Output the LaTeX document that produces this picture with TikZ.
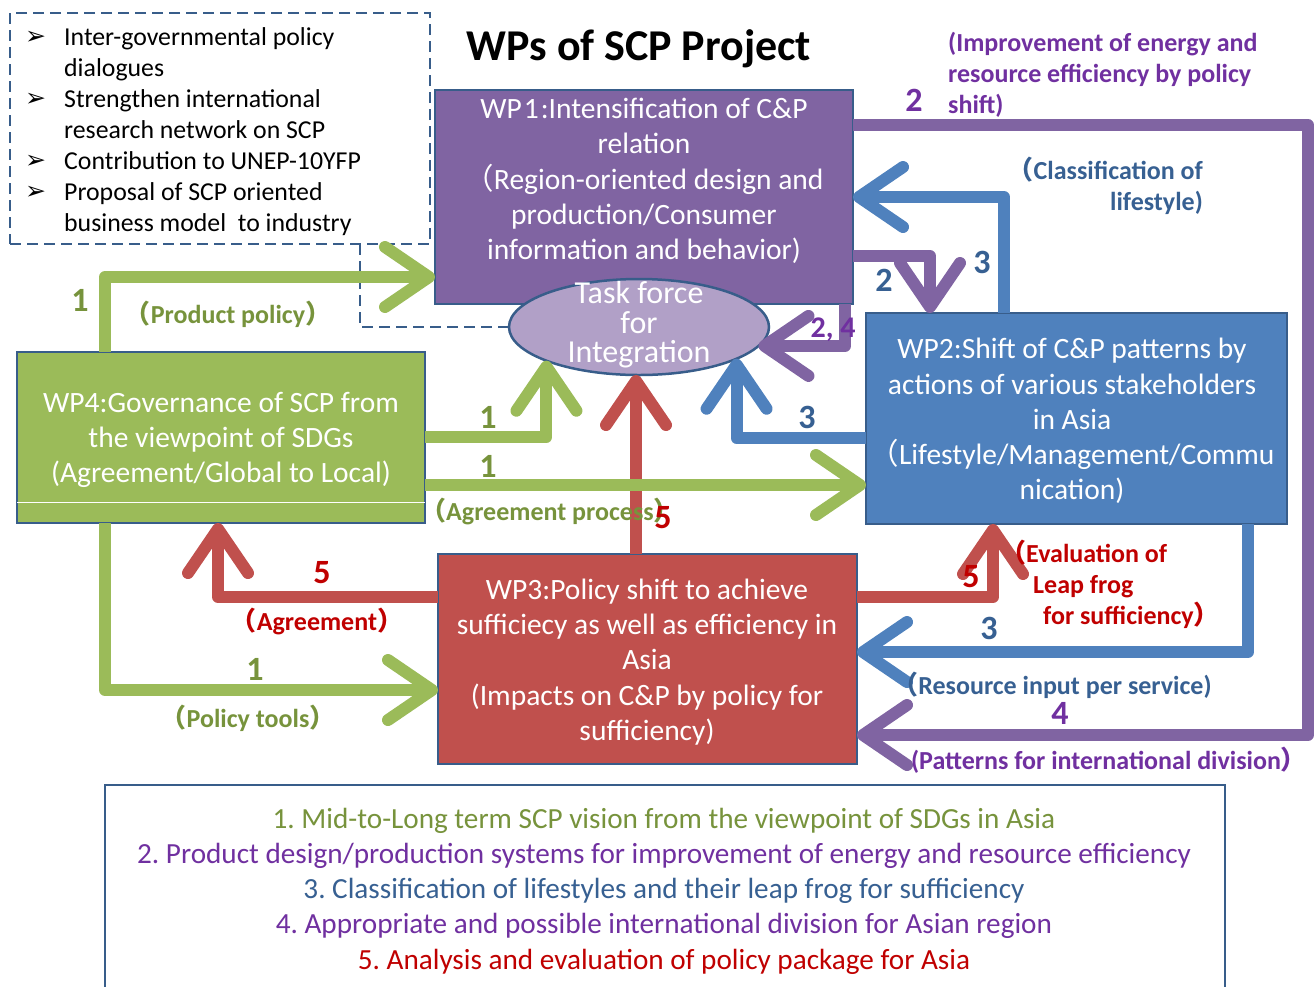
\documentclass[tikz,border=0pt]{standalone}
\usepackage{fontspec}
\setmainfont{Carlito}
\newfontfamily\cjk{Noto Sans CJK JP}
\newfontfamily\dejavu{DejaVu Sans}
\usetikzlibrary{arrows.meta,shapes.geometric}
\definecolor{gfill}{HTML}{9BBB59}
\definecolor{pfill}{HTML}{8064A2}
\definecolor{bfill}{HTML}{4F81BD}
\definecolor{rfill}{HTML}{C0504D}
\definecolor{edge}{HTML}{385D8A}
\definecolor{efill}{HTML}{B1A0C7}
\definecolor{gtxt}{HTML}{77933C}
\definecolor{ptxt}{HTML}{7030A0}
\definecolor{btxt}{HTML}{376092}
\definecolor{rtxt}{HTML}{C00000}
\newcommand{\jlp}{{\cjk （}}
\newcommand{\jrp}{{\cjk ）}}
\newcommand{\bul}{\makebox[39pt][l]{\raisebox{1pt}{\dejavu\bfseries\fontsize{25}{31}\selectfont ➢}}}
\frenchspacing
\begin{document}
\begin{tikzpicture}[x=1pt,y=-1pt,
  wpbox/.style={draw=edge, line width=2.5pt, anchor=north west, inner sep=0pt, outer sep=0pt},
  wptext/.style={align=center, text=white, inner sep=0pt, font=\fontsize{29.5}{35.2}\selectfont},
  arr/.style={line width=12pt, line join=round, -{Straight Barb[length=44pt,width=60pt,round]}},
  num/.style={inner sep=0pt, font=\fontsize{34}{34}\selectfont\bfseries},
  lab/.style={inner sep=0pt, font=\fontsize{26}{31}\selectfont\bfseries},
  dashline/.style={draw=edge, line width=2.8pt, dash pattern=on 11pt off 6pt}
]
\useasboundingbox (0,0) rectangle (1314,986);

% dashed box and list
\node[wpbox, dashline, minimum width=420pt, minimum height=231pt] (dash) at (10,13) {};
\node[anchor=north west, inner sep=0pt, font=\fontsize{25.8}{31}\selectfont] (list) at (25,24) {%
\begin{tabular}{@{}l@{}l@{}}
\bul & Inter-governmental policy\\
 & dialogues\\
\bul & Strengthen international\\
 & research network on SCP\\
\bul & Contribution to UNEP-10YFP\\
\bul & Proposal of SCP oriented\\
 & business model\ \ to industry
\end{tabular}};

% title
\node[inner sep=0pt, font=\fontsize{44}{44}\selectfont\bfseries] (title) at (639,49) {WPs of SCP Project};

% boxes
\node[wpbox, fill=pfill, minimum width=418pt, minimum height=214pt] (wp1) at (435,90) {};
\node[wptext] (wp1t) at (644,181) {WP\hspace{2pt}1\hspace{2pt}:Intensification of C\&P\\relation\\\jlp Region-oriented design and\\production/Consumer\\information and behavior)};
\node[wpbox, fill=bfill, minimum width=421pt, minimum height=211pt] (wp2) at (866,313) {};
\node[wptext] (wp2t) at (1072,421) {WP2:Shift of C\&P patterns by\\actions of various stakeholders\\in Asia\\\jlp Lifestyle/Management/Commu\\nication)};
\node[wpbox, fill=gfill, minimum width=408pt, minimum height=171pt] (wp4) at (17,352) {};
\draw[white, line width=1pt] ([yshift=21pt]wp4.south west) -- ([yshift=21pt]wp4.south east);
\node[wptext] (wp4t) at (221,440) {WP4:Governance of SCP from\\the viewpoint of SDGs\\(Agreement/Global to Local)};
\node[wpbox, fill=rfill, minimum width=419pt, minimum height=210pt] (wp3) at (438,554) {};
\node[wptext] (wp3t) at (647,662) {WP3:Policy shift to achieve\\sufficiecy as well as efficiency in\\Asia\\(Impacts on C\&P by policy for\\sufficiency)};

% task force ellipse
\node[ellipse, draw=edge, line width=2.5pt, fill=efill, minimum width=260pt, minimum height=96pt, inner sep=0pt, outer sep=0pt] (tf) at (639,327) {};
\node[align=center, text=white, inner sep=0pt, font=\fontsize{32}{29.5}\selectfont] (tft) at (639,325) {Task force\\for\\Integration};

% dashed link
\draw[dashline] ([xshift=-70pt]dash.south east) |- (tf.west);

% legend
\node[wpbox, fill=white, minimum width=1120pt, minimum height=240pt] (leg) at (105,785) {};
\node[align=center, inner sep=0pt, font=\fontsize{29.2}{35.3}\selectfont] (legt) at (664,891) {%
\textcolor{gtxt}{1. Mid-to-Long term SCP vision from the viewpoint of SDGs in Asia}\\
\textcolor{ptxt}{2. Product design/production systems for improvement of energy and resource efficiency}\\
\textcolor{btxt}{3. Classification of lifestyles and their leap frog for sufficiency}\\
\textcolor{ptxt}{4. Appropriate and possible international division for Asian region}\\
\textcolor{rtxt}{5. Analysis and evaluation of policy package for Asia}};

% red arrows
\coordinate (r1) at ([xshift=198pt]wp3.north west);
\draw[arr, rfill] (r1) -- (r1 |- tf.south);
\draw[arr, rfill] ([yshift=-43pt]wp3.north west) -| ([xshift=201pt]wp4.south west);
\draw[arr, rfill] ([yshift=-43pt]wp3.north east) -| ([xshift=127pt]wp2.south west);

% blue arrows
\draw[arr, bfill] ([xshift=138pt]wp2.north west) |- (wp1.east);
\draw[arr, bfill] ([yshift=-125pt]wp2.north west) -| (tf.-18);
\draw[arr, bfill] ([xshift=-39pt]wp2.south east) |- ([yshift=112pt]wp3.south east);

% purple arrows
\draw[arr, pfill] ([yshift=-35pt]wp1.north east) -- ++(455,0) |- ([yshift=29pt]wp3.south east);
\draw[arr, pfill] ([yshift=48pt]wp1.south east) -| ([xshift=64pt]wp2.north west);
\draw[arr, pfill] ([xshift=-8pt]wp1.south east) |- (tf.-9);

% green arrows
\draw[arr, gfill] ([xshift=88pt]wp4.north west) |- ([yshift=27pt]wp1.south west);
\draw[arr, gfill] ([yshift=-85pt]wp4.north east) -| (tf.200);
\coordinate (g3) at ([yshift=-133pt]wp4.north east);
\draw[arr, gfill] (g3) -- (g3 -| wp2.west);
\draw[arr, gfill] ([xshift=88pt]wp4.south west) |- ([yshift=74pt]wp3.south west);

% green labels
\node[num, gtxt] (n1a) at (80,300) {1};
\node[lab, gtxt] (pp) at (228,314) {\jlp Product policy\jrp};
\node[num, gtxt] (n1b) at (488,417) {1};
\node[num, gtxt] (n1c) at (488,466) {1};
\node[lab, gtxt] (ap) at (550,511) {\jlp Agreement process\jrp};
\node[num, gtxt] (n1d) at (255,669) {1};
\node[lab, gtxt] (pt) at (248,718) {\jlp Policy tools\jrp};

% red labels
\node[num, rtxt] (n5a) at (663,518) {5};
\node[num, rtxt] (n5b) at (322,573) {5};
\node[lab, rtxt] (agr) at (317,621) {\jlp Agreement\jrp};
\node[num, rtxt] (n5c) at (971,577) {5};
\node[lab, rtxt, anchor=west, align=left] (eval) at (1000,584) {\jlp Evaluation of\\\hspace*{33pt}Leap frog\\\hspace*{43pt}for sufficiency\jrp};

% purple labels
\node[num, ptxt] (n2a) at (914,100) {2};
\node[lab, ptxt, anchor=west, align=left] (imp) at (948,75) {(Improvement of energy and\\resource efficiency by policy\\shift)};
\node[num, ptxt, font=\fontsize{30}{30}\selectfont\bfseries] (n24) at (833,330) {2, 4};
\node[num, ptxt] (n4) at (1060,713) {4};
\node[lab, ptxt] (pat) at (1109,760) {(Patterns for international division\jrp};

% blue labels
\node[num, btxt] (n3a) at (982,262) {3};
\node[num, btxt] (n2b) at (884,280) {2};
\node[lab, btxt, anchor=east, align=right] (cls) at (1203,186) {\jlp Classification of\\lifestyle)};
\node[num, btxt] (n3b) at (807,417) {3};
\node[num, btxt] (n3c) at (989,628) {3};
\node[lab, btxt] (res) at (1052,685) {\jlp Resource input per service)};
\end{tikzpicture}
\end{document}
